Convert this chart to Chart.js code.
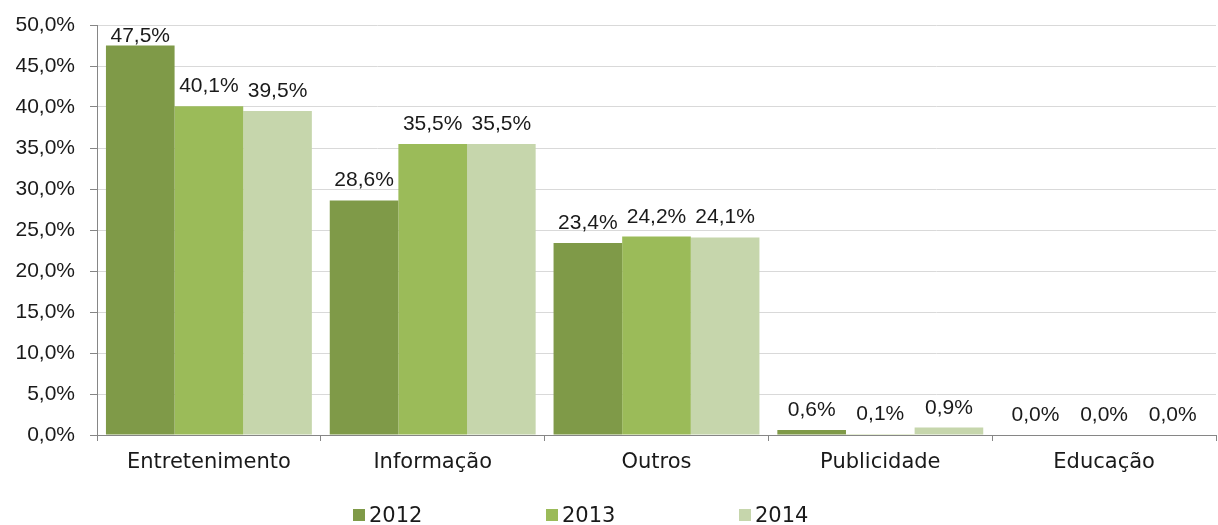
<!DOCTYPE html>
<html><head><meta charset="utf-8">
<script src="https://cdn.jsdelivr.net/npm/chart.js@4/dist/chart.umd.min.js"></script>
<style>html,body{margin:0;padding:0;background:#fff}#wrap{width:1218px;height:525px;position:relative}</style>
</head><body><div id="wrap"><canvas id="c"></canvas></div>
<script>
const categories = ['Entretenimento', 'Informação', 'Outros', 'Publicidade', 'Educação'];
const years = ['2012', '2013', '2014'];
const values2012 = [47.5, 28.6, 23.4, 0.6, 0.0];
const values2013 = [40.1, 35.5, 24.2, 0.1, 0.0];
const values2014 = [39.5, 35.5, 24.1, 0.9, 0.0];
const seriesColors = ['#7F9A48', '#9BBB59', '#C6D6AC'];
const yTicks = [0, 5, 10, 15, 20, 25, 30, 35, 40, 45, 50];

const fmt = v => v.toFixed(1).replace('.', ',') + '%';
const numFont = '"Liberation Sans", Arial, sans-serif';
const wordFont = '"DejaVu Sans", sans-serif';

const dataLabels = {
  id: 'dataLabels',
  afterDatasetsDraw(chart) {
    const ctx = chart.ctx;
    ctx.save();
    ctx.font = '21px ' + numFont;
    ctx.fillStyle = '#1a1a1a';
    ctx.textAlign = 'center';
    ctx.textBaseline = 'alphabetic';
    chart.data.datasets.forEach((ds, i) => {
      chart.getDatasetMeta(i).data.forEach((bar, j) => {
        const y = Math.max(bar.y - 14, chart.chartArea.top + 17);
        ctx.fillText(fmt(ds.data[j]), bar.x, y);
      });
    });
    ctx.restore();
  }
};

const customLegend = {
  id: 'customLegend',
  afterDraw(chart) {
    const ctx = chart.ctx;
    ctx.save();
    ctx.font = '21px ' + wordFont;
    ctx.textBaseline = 'alphabetic';
    const startX = 353, step = 193, boxTop = 509, box = 12;
    chart.data.datasets.forEach((ds, i) => {
      const x = startX + i * step;
      ctx.fillStyle = ds.backgroundColor;
      ctx.fillRect(x, boxTop, box, box);
      ctx.fillStyle = '#1a1a1a';
      ctx.fillText(ds.label, x + 16, 522);
    });
    ctx.restore();
  }
};

new Chart(document.getElementById('c'), {
  type: 'bar',
  data: {
    labels: categories,
    datasets: [
      { label: years[0], data: values2012, backgroundColor: seriesColors[0] },
      { label: years[1], data: values2013, backgroundColor: seriesColors[1] },
      { label: years[2], data: values2014, backgroundColor: seriesColors[2] }
    ]
  },
  options: {
    responsive: true,
    maintainAspectRatio: false,
    animation: false,
    layout: { padding: { top: 25, right: 2, left: 0, bottom: 40 } },
    datasets: { bar: { categoryPercentage: 0.92, barPercentage: 1.0, borderWidth: 0 } },
    plugins: { legend: { display: false }, tooltip: { enabled: false } },
    scales: {
      x: {
        grid: { offset: true, drawOnChartArea: false, color: '#868686', tickLength: 6, lineWidth: 1 },
        border: { color: '#868686', width: 1 },
        ticks: { font: { family: wordFont, size: 21 }, color: '#1a1a1a', padding: 9, maxRotation: 0 },
        afterFit(s) { s.height = 50; }
      },
      y: {
        min: 0, max: 50,
        afterBuildTicks(s) { s.ticks = yTicks.map(v => ({ value: v })); },
        grid: { color: '#D9D9D9', tickColor: '#868686', tickLength: 7, lineWidth: 1 },
        border: { color: '#868686', width: 1 },
        ticks: { font: { family: numFont, size: 21, lineHeight: 1 }, color: '#1a1a1a', padding: 15, callback: v => fmt(v) },
        afterFit(s) { s.width = 97; s.paddingTop = 0; s.paddingBottom = 0; }
      }
    }
  },
  plugins: [dataLabels, customLegend]
});
</script>
</body></html>
